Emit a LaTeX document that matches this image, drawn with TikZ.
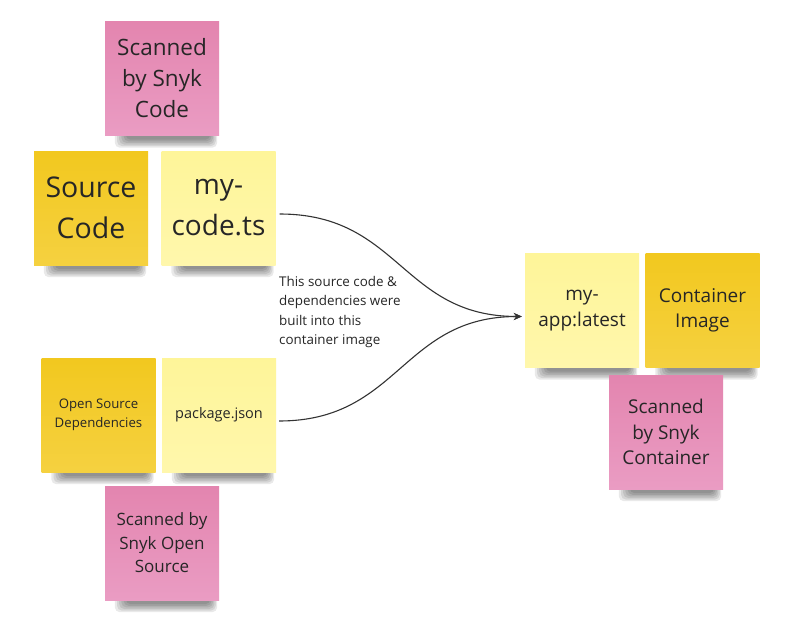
\documentclass[tikz,border=0pt]{standalone}
\usepackage{fontspec}
\setmainfont{Open Sans}
\usetikzlibrary{arrows.meta,backgrounds}
\definecolor{pinkT}{HTML}{E385AF}
\definecolor{pinkB}{HTML}{EA9CC3}
\definecolor{goldT}{HTML}{F2C81F}
\definecolor{goldB}{HTML}{F5D140}
\definecolor{paleT}{HTML}{FEF599}
\definecolor{paleB}{HTML}{FFF7AC}
\definecolor{ink}{HTML}{262626}
\definecolor{wire}{HTML}{333333}
\begin{document}
\begin{tikzpicture}[x=1pt,y=-1pt,
  note/.style={minimum width=114pt, minimum height=114pt, inner sep=0pt, align=center, text=ink},
  pinknote/.style={note, top color=pinkT, bottom color=pinkB},
  goldnote/.style={note, top color=goldT, bottom color=goldB},
  palenote/.style={note, top color=paleT, bottom color=paleB},
  shadowlayer/.style={black, opacity=0.085, rounded corners=5pt},
  conn/.style={draw=wire, line width=1.1pt, -{Stealth[length=8pt,width=7pt]}}
]
% notes
\node[pinknote, font=\fontsize{22.5}{31}\selectfont] (scode) at (162,78.5) {Scanned\\by Snyk\\Code};
\node[goldnote, font=\fontsize{28.5}{41}\selectfont] (src) at (91,208) {Source\\Code};
\node[palenote, font=\fontsize{28}{41}\selectfont] (mycode) at (218.5,208) {my-\\code.ts};
\node[goldnote, font=\fontsize{13.2}{18.5}\selectfont] (osd) at (98.5,415) {Open Source\\Dependencies};
\node[palenote, font=\fontsize{14.5}{19}\selectfont] (pkg) at (219,415) {package.json};
\node[pinknote, font=\fontsize{17}{23.5}\selectfont] (sos) at (162,543) {Scanned by\\Snyk Open\\Source};
\node[palenote, font=\fontsize{19}{25.5}\selectfont] (myapp) at (582,310.5) {my-\\app:latest};
\node[goldnote, font=\fontsize{19}{25.5}\selectfont] (cimg) at (702.5,310.5) {Container\\Image};
\node[pinknote, font=\fontsize{19}{25.5}\selectfont] (scont) at (666,432) {Scanned\\by Snyk\\Container};
% label
\node[anchor=north west, inner sep=0pt, align=left, text=ink, font=\fontsize{13.4}{19.5}\selectfont] (lbl) at (279,276) {This source code \&\\dependencies were\\built into this\\container image};
% connectors
\draw[conn] ([xshift=4pt,yshift=-6pt]mycode.east) .. controls +(120,0) and +(-120,0) .. ([xshift=-3pt,yshift=-6pt]myapp.west);
\draw[conn] ([xshift=3pt,yshift=-6pt]pkg.east) .. controls +(120,0) and +(-120,0) .. ([xshift=-3pt,yshift=-6pt]myapp.west);
% background and shadows
\begin{scope}[on background layer]
  \fill[white] (0,0) rectangle (785,618);
  \foreach \n in {scode,src,mycode,osd,pkg,sos,myapp,cimg,scont}{
    \foreach \k in {0,...,5}{
      \fill[shadowlayer] ([xshift=10pt+\k*2.2pt, yshift=4pt]\n.south west) rectangle ([xshift=-2pt-\k*1.4pt, yshift=-12pt+\k*1.6pt]\n.south east);
    }
  }
\end{scope}
\useasboundingbox (0,0) rectangle (785,618);
\end{tikzpicture}
\end{document}
